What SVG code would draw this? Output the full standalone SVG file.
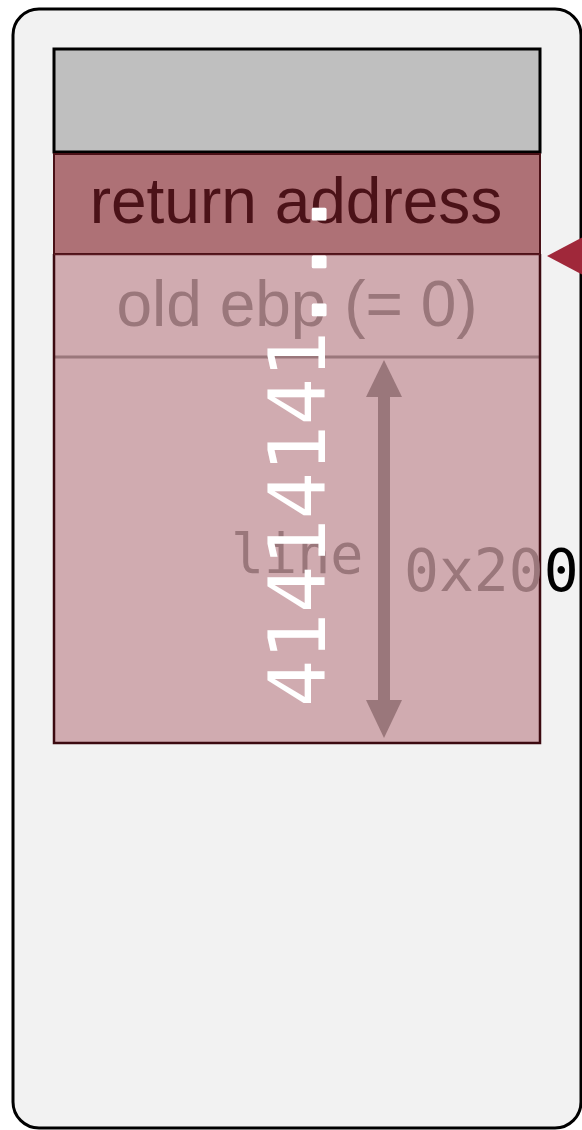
<svg xmlns="http://www.w3.org/2000/svg" width="582" height="1130" viewBox="0 0 582 1130">
<style>
.sans{font-family:"Liberation Sans",Arial,sans-serif}
.mono{font-family:"DejaVu Sans Mono",monospace}
.faded{fill:#9a777b}
</style>
<g id="frame">
<rect x="13" y="9" width="568" height="1119" rx="26" fill="#f2f2f2" stroke="#000" stroke-width="3"/>
</g>
<g id="top-slot">
<rect x="54" y="49" width="486" height="103" fill="#bfbfbf" stroke="#000" stroke-width="3"/>
</g>
<g id="return-address">
<rect x="54" y="154" width="486" height="100" fill="#ae7176" stroke="#4a1016" stroke-width="2"/>
<text x="296" y="223" font-size="64" text-anchor="middle" class="sans" fill="#4b1218">return address</text>
</g>
<g id="old-ebp">
<rect x="54" y="255" width="486" height="102" fill="#d0abb0"/>
<text x="297" y="326" font-size="64" text-anchor="middle" class="sans faded">old ebp (= 0)</text>
</g>
<g id="line-buffer">
<rect x="54" y="357" width="486" height="386" fill="#d0abb0"/>
<line x1="54" y1="357" x2="540" y2="357" stroke="#9a777b" stroke-width="3"/>
<text x="231" y="573" font-size="55" class="mono faded">line</text>
</g>
<g id="stack-border">
<path d="M54,254 V743 H540 V254" fill="none" stroke="#3c0a10" stroke-width="2.5"/>
<line x1="54" y1="254.5" x2="540" y2="254.5" stroke="#5a1a22" stroke-width="1.5"/>
</g>
<g id="connectors">
<line x1="384" y1="380" x2="384" y2="718" stroke="#9a777b" stroke-width="12"/>
<path d="M366,397 L384,360 L402,397 Z" fill="#9a777b"/>
<path d="M366,700 L384,738 L402,700 Z" fill="#9a777b"/>
<polygon points="547,256 600,228 600,284" fill="#a0283a"/>
</g>
<g id="size-label">
<text x="404" y="591" font-size="58" class="mono faded">0x20<tspan fill="#000">0</tspan></text>
</g>
<g id="overflow">
<text x="325" y="707" font-size="78" class="mono" fill="#fff" transform="rotate(-90 325 707)">41414141<tspan stroke="#fff" stroke-width="3" stroke-linejoin="round" dx="-2" letter-spacing="1">...</tspan></text>
</g>
</svg>
